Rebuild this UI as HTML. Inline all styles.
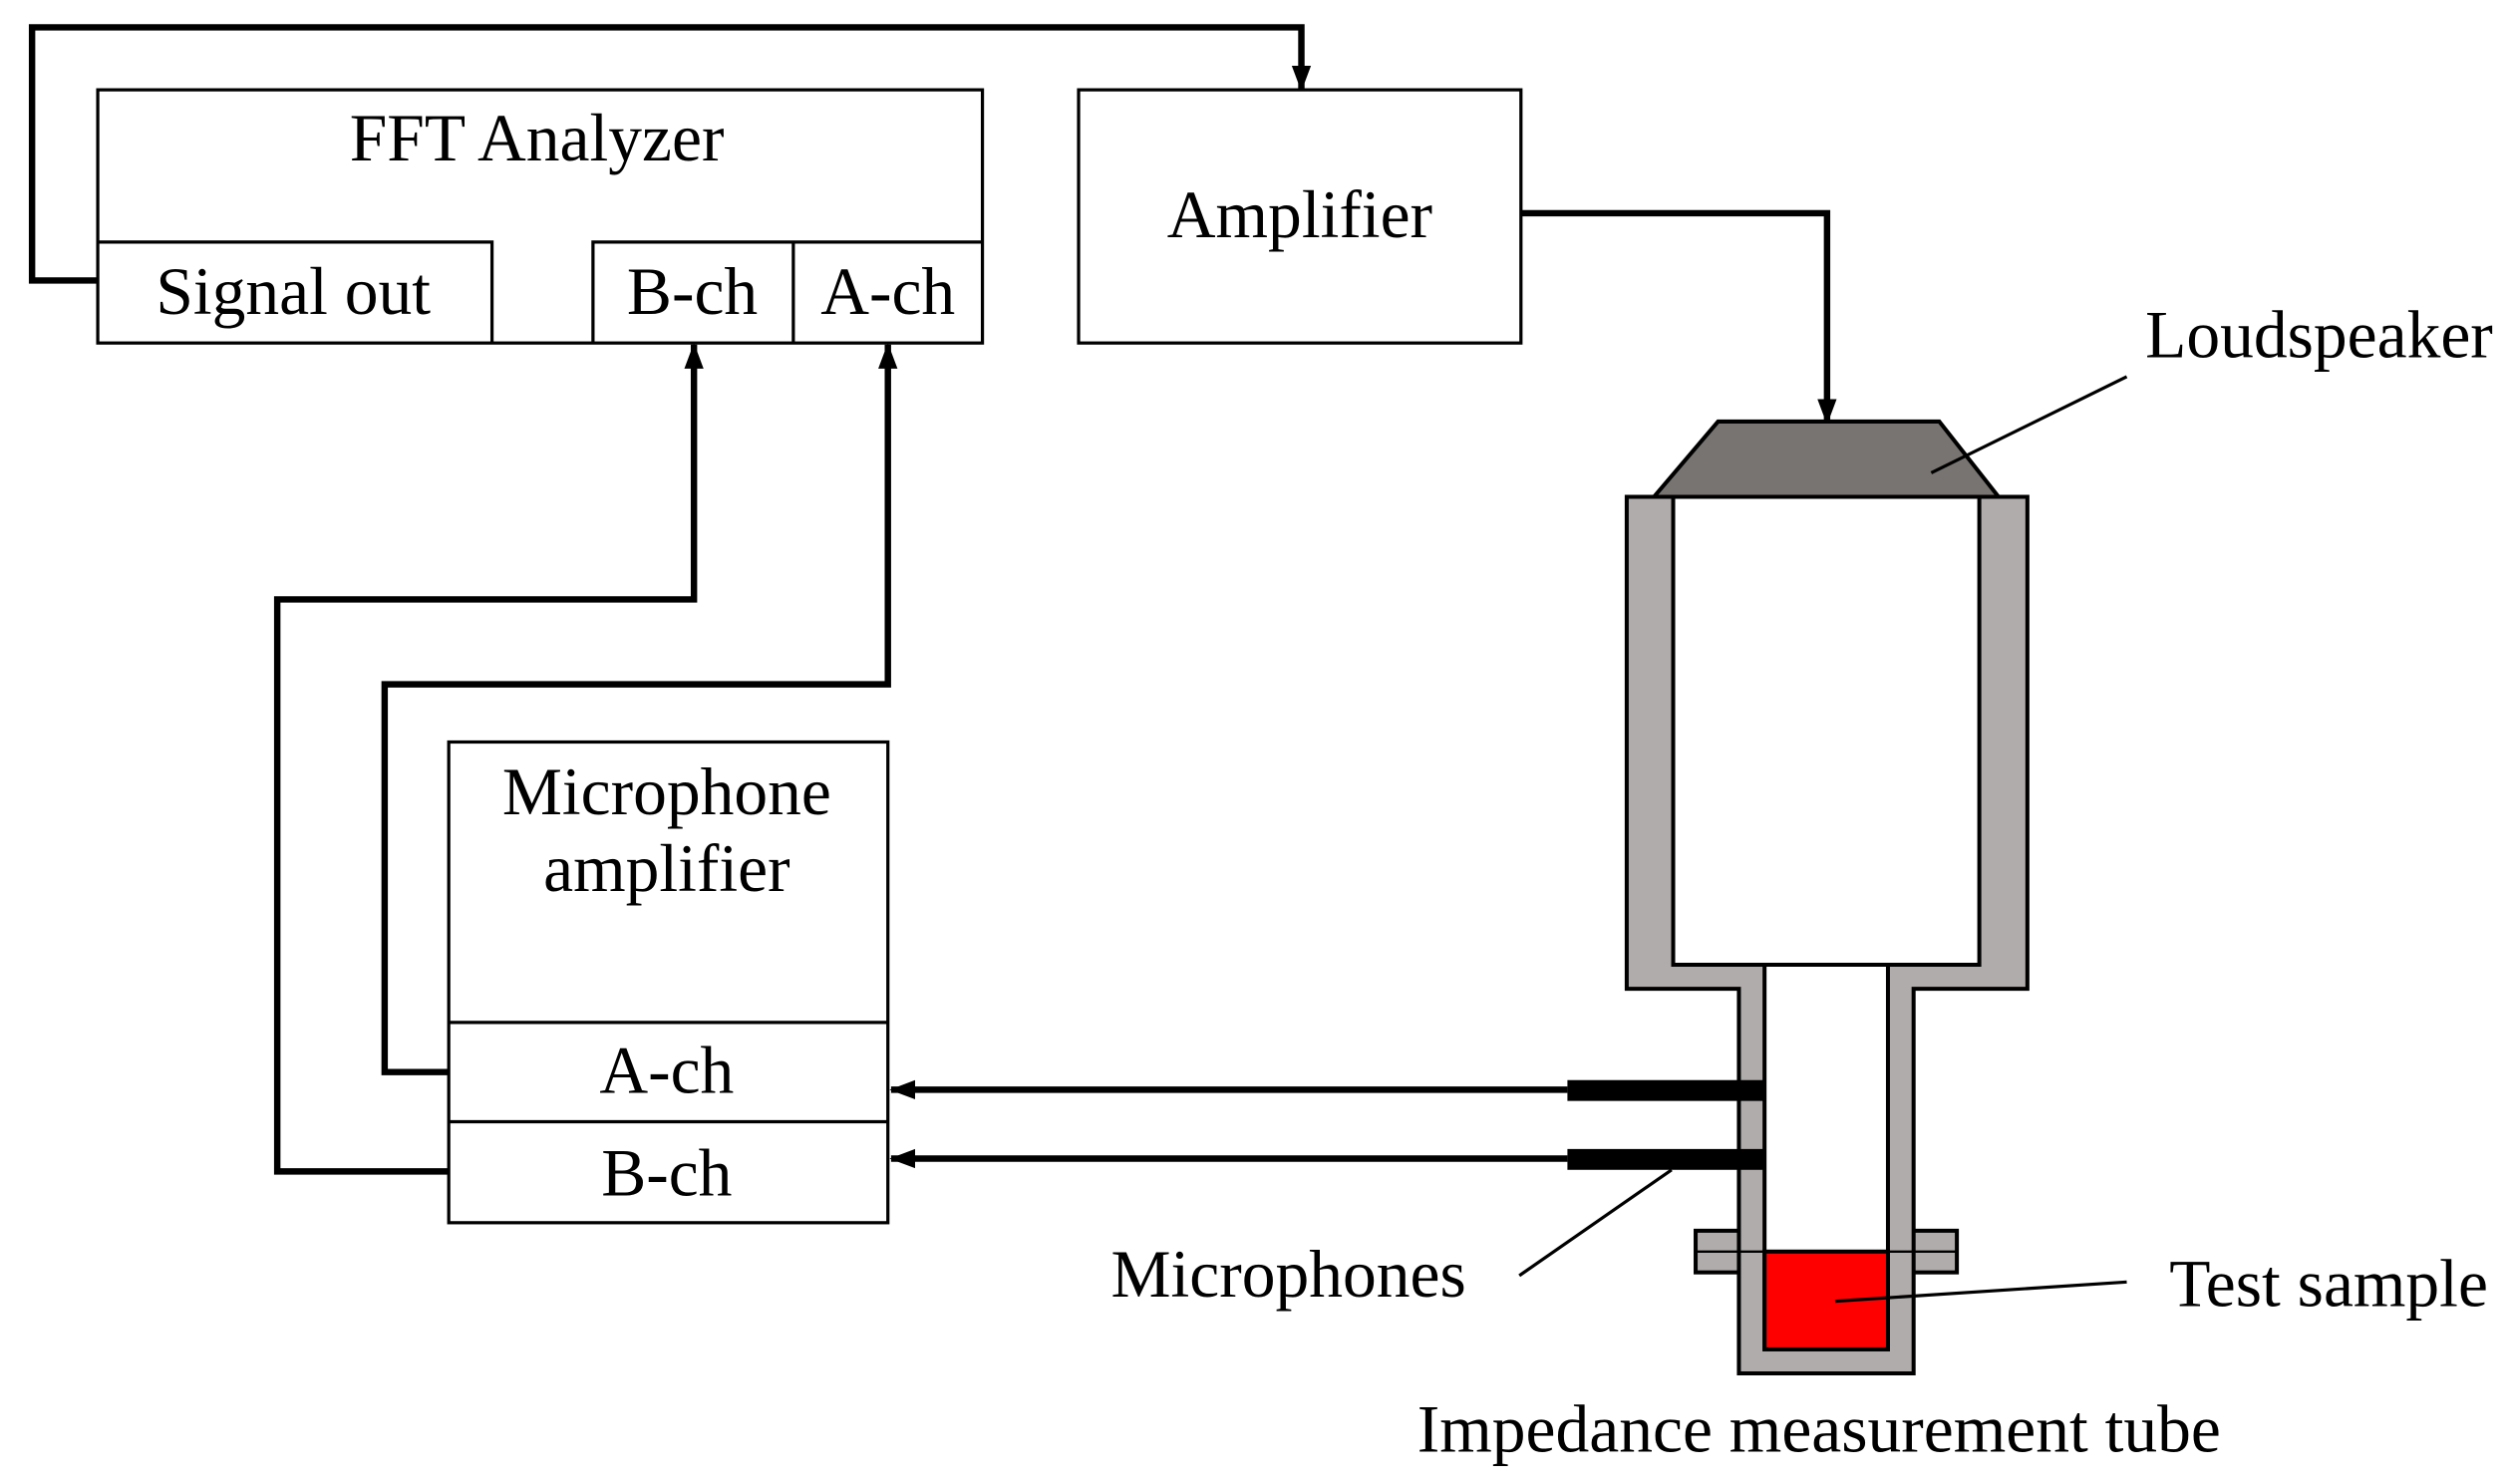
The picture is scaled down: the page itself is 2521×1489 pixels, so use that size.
<!DOCTYPE html>
<html><head><meta charset="utf-8"><style>html,body{margin:0;padding:0;background:#fff}svg{display:block}text{font-family:"Liberation Serif",serif;font-size:42px;fill:#000}</style></head>
<body>
<svg width="2521" height="1489" viewBox="0 0 1568 926" xmlns="http://www.w3.org/2000/svg">
<defs>
<marker id="b" markerWidth="16" markerHeight="16" refX="15" refY="8" orient="auto" markerUnits="userSpaceOnUse" viewBox="0 0 16 16"><path d="M0,2 L16,8 L0,14 z" fill="#000"/></marker></defs>
<g fill="none" stroke="#000" stroke-width="2">
<rect x="61" y="56" width="552" height="158" fill="#fff"/>
<path d="M61,151 H307 V214 M370,214 V151 H613 M495,151 V214"/>
<rect x="673" y="56" width="276" height="158" fill="#fff"/>
<rect x="280" y="463" width="274" height="300" fill="#fff"/>
<path d="M280,638 H554 M280,700 H554"/>
</g>
<g fill="none" stroke="#000" stroke-width="4">
<path d="M61,175 H20 V17 H812 V56" marker-end="url(#b)"/>
<path d="M949,133 H1140 V264" marker-end="url(#b)"/>
<path d="M280,669 H240 V427 H554 V215" marker-end="url(#b)"/>
<path d="M280,731 H173 V374 H433 V215" marker-end="url(#b)"/>
<path d="M978,680 H556" marker-end="url(#b)"/>
<path d="M978,723 H556" marker-end="url(#b)"/>
</g>
<g stroke="#000" stroke-width="2.5">
<path d="M1072,263 H1210 L1247,310 H1032 z" fill="#787472"/>
<rect x="1058" y="768" width="163" height="26" fill="#b0acab"/>
<path d="M1015,310 H1265 V617 H1194 V857 H1085 V617 H1015 z" fill="#b0acab"/>
<path d="M1044,310 H1235 V602 H1178 V842 H1101 V602 H1044 z" fill="#fff"/>
<rect x="1101" y="781" width="77" height="61" fill="#f00"/>
<path d="M1058,781 H1221" fill="none" stroke-width="1.5"/>
</g>
<path d="M1044,602 H1235" stroke="#000" stroke-width="2.5"/>
<rect x="978" y="674" width="123" height="13" fill="#000"/>
<rect x="978" y="717" width="123" height="13" fill="#000"/>
<g stroke="#000" stroke-width="2">
<path d="M1327,235 L1205,295"/>
<path d="M948,796 L1043,730"/>
<path d="M1327,800 L1145,812"/>
</g>
<g text-anchor="middle">
<text x="335" y="100">FFT Analyzer</text>
<text x="183" y="196">Signal out</text>
<text x="432" y="196">B-ch</text>
<text x="554" y="196">A-ch</text>
<text x="811" y="148">Amplifier</text>
<text x="416" y="508">Microphone</text>
<text x="416" y="556">amplifier</text>
<text x="416" y="682">A-ch</text>
<text x="416" y="746">B-ch</text>
<text x="1447" y="223">Loudspeaker</text>
<text x="804" y="809">Microphones</text>
<text x="1453" y="815">Test sample</text>
<text x="1135" y="906">Impedance measurement tube</text>
</g>
</svg>
</body></html>
